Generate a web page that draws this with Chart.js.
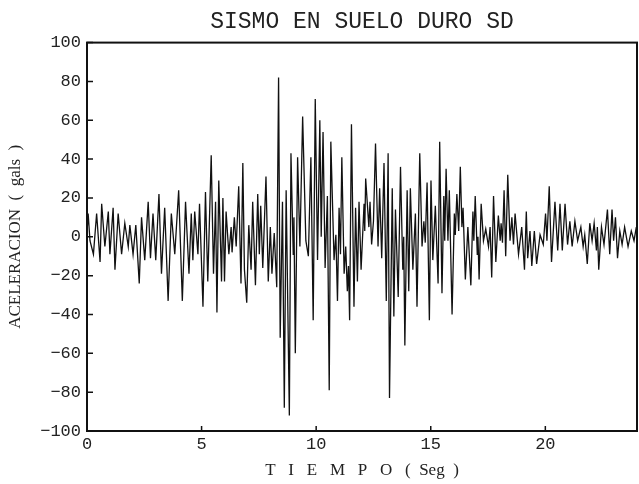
<!DOCTYPE html>
<html>
<head>
<meta charset="utf-8">
<script src="https://cdn.jsdelivr.net/npm/chart.js@4.4.1/dist/chart.umd.min.js"></script>
<style>
  html, body { margin: 0; padding: 0; background: #fff; }
  #wrap { width: 639px; height: 484px; }
</style>
</head>
<body>
<div id="wrap"><canvas id="myChart" width="639" height="484"></canvas></div>
<script>
const times = [
  0.00, 0.05, 0.13, 0.28, 0.42, 0.57, 0.64, 0.78, 0.93, 1.00, 1.14, 1.22, 1.36, 1.51, 1.65, 1.80, 1.87, 2.01, 2.13, 2.28,
  2.38, 2.52, 2.67, 2.77, 2.88, 3.00, 3.14, 3.25, 3.39, 3.54, 3.68, 3.83, 4.00, 4.16, 4.30, 4.45, 4.55, 4.62, 4.70, 4.84,
  4.91, 5.06, 5.17, 5.27, 5.42, 5.52, 5.61, 5.67, 5.75, 5.87, 5.93, 6.00, 6.07, 6.19, 6.29, 6.33, 6.43, 6.51, 6.62, 6.72,
  6.80, 6.87, 6.97, 7.06, 7.16, 7.23, 7.35, 7.45, 7.52, 7.58, 7.67, 7.81, 7.91, 8.00, 8.07, 8.17, 8.28, 8.36, 8.43, 8.53,
  8.61, 8.69, 8.83, 8.90, 9.00, 9.03, 9.09, 9.19, 9.29, 9.41, 9.55, 9.66, 9.77, 9.87, 9.96, 10.06, 10.16, 10.22, 10.30, 10.39,
  10.49, 10.57, 10.64, 10.78, 10.86, 10.93, 11.00, 11.06, 11.12, 11.22, 11.29, 11.36, 11.41, 11.46, 11.54, 11.65, 11.72, 11.80, 11.87, 11.96,
  12.09, 12.12, 12.16, 12.30, 12.35, 12.42, 12.50, 12.59, 12.70, 12.77, 12.86, 12.96, 13.06, 13.14, 13.20, 13.32, 13.39, 13.46, 13.58, 13.68,
  13.78, 13.82, 13.87, 13.97, 14.04, 14.11, 14.22, 14.33, 14.40, 14.52, 14.62, 14.70, 14.76, 14.84, 14.94, 15.01, 15.09, 15.20, 15.32, 15.39,
  15.49, 15.57, 15.61, 15.67, 15.75, 15.81, 15.93, 16.03, 16.07, 16.14, 16.22, 16.29, 16.36, 16.41, 16.51, 16.62, 16.75, 16.84, 16.88, 16.94,
  17.03, 17.06, 17.11, 17.20, 17.30, 17.40, 17.52, 17.59, 17.66, 17.74, 17.84, 17.95, 18.03, 18.07, 18.13, 18.20, 18.27, 18.36, 18.46, 18.54,
  18.61, 18.68, 18.83, 18.97, 19.09, 19.17, 19.23, 19.33, 19.41, 19.52, 19.62, 19.77, 19.91, 20.01, 20.07, 20.17, 20.27, 20.42, 20.54, 20.64,
  20.74, 20.86, 20.97, 21.07, 21.17, 21.29, 21.41, 21.55, 21.65, 21.72, 21.83, 21.94, 22.04, 22.13, 22.23, 22.27, 22.33, 22.45, 22.56, 22.71,
  22.81, 22.91, 22.98, 23.06, 23.15, 23.25, 23.35, 23.46, 23.61, 23.75, 23.87, 23.97
];
const accel = [
  2, 12, -2, -9, 12, -13, 17, -5, 13, -9, 15, -17, 12, -9, 7, -5, 6, -9, 6, -24,
  10, -12, 18, -11, 12, -12, 22, -19, 15, -33, 12, -9, 24, -33, 18, -19, 12, -12, 13, -9,
  17, -36, 23, -23, 42, -19, 18, -39, 29, -23, 20, -23, 13, -9, 5, -8, 10, -5, 26, -24,
  38, -17, -34, 6, -17, 18, -25, 22, -9, 16, -16, 31, -23, 5, -19, 2, -26, 82, -52, 18,
  -88, 24, -92, 43, -9, 10, -60, 41, -5, 62, -2, -10, 41, -43, 71, -12, 60, 0, 54, -16,
  21, -79, 49, -12, 1, -33, 15, -9, 41, -19, -5, -28, -15, -43, 58, -36, 15, -23, 18, -17,
  17, 3, 30, 5, 18, -4, 8, 48, -5, 25, -11, 38, -33, 43, -83, 25, -41, 14, -31, 36,
  -17, 0, -56, 24, -28, 25, -17, 12, -36, 43, -5, 8, -3, 28, -43, 29, -12, 16, -24, 49,
  -29, 21, -2, 35, -2, 24, -40, 12, 1, 22, 3, 36, 5, 15, -22, 5, -25, 13, -2, 21,
  -9, 0, -22, 17, -2, 4, -5, 5, -21, 21, -13, 11, -2, 7, -3, 24, -10, 32, -2, 10,
  -4, 12, -9, 5, -17, 13, -11, 3, -15, 3, -14, 1, -4, 12, -2, 26, -13, 18, -7, 17,
  -7, 17, -4, 8, -5, 8, -2, 5, -5, 1, -14, 7, -2, 7, -7, 5, -17, 5, -4, 14,
  -9, 14, -2, 10, -11, 3, -4, 5, -5, 3, -2, 5
];
const xTickValues = [0, 5, 10, 15, 20];
const yTickValues = [-100, -80, -60, -40, -20, 0, 20, 40, 60, 80, 100];

const points = times.map((t, i) => ({ x: t, y: accel[i] }));

// marco completo y marcas de division hacia adentro
const framePlugin = {
  id: 'frame',
  afterDraw(chart) {
    const c = chart.ctx;
    const a = chart.chartArea;
    const xs = chart.scales.x;
    const ys = chart.scales.y;
    c.save();
    c.strokeStyle = '#111';
    c.lineWidth = 2;
    c.strokeRect(a.left, a.top, a.right - a.left, a.bottom - a.top);
    c.lineWidth = 1.5;
    c.beginPath();
    yTickValues.forEach(v => {
      const y = ys.getPixelForValue(v);
      c.moveTo(a.left, y);
      c.lineTo(a.left + 6, y);
    });
    xTickValues.forEach(v => {
      if (v === 0) return;
      const x = xs.getPixelForValue(v);
      c.moveTo(x, a.bottom);
      c.lineTo(x, a.bottom - 5);
    });
    c.stroke();
    c.restore();
  }
};

const ctx = document.getElementById('myChart');
new Chart(ctx, {
  type: 'line',
  plugins: [framePlugin],
  data: {
    datasets: [{
      data: points,
      borderColor: '#111',
      borderWidth: 1.3,
      pointRadius: 0,
      tension: 0,
      fill: false
    }]
  },
  options: {
    responsive: false,
    animation: false,
    layout: { padding: { left: 0, right: 2, top: 0, bottom: 0 } },
    plugins: {
      legend: { display: false },
      tooltip: { enabled: false },
      title: {
        display: true,
        text: 'SISMO EN SUELO DURO SD',
        fullSize: false,
        color: '#222',
        font: { family: 'Liberation Mono', size: 23, weight: 'normal' },
        padding: { top: 8, bottom: 7 }
      }
    },
    scales: {
      x: {
        type: 'linear',
        min: 0,
        max: 24,
        afterBuildTicks: scale => { scale.ticks = xTickValues.map(v => ({ value: v })); },
        afterFit: scale => { scale.height = 53; },
        grid: { display: false, drawTicks: false },
        border: { display: false },
        ticks: {
          color: '#222',
          padding: 3,
          maxRotation: 0,
          font: { family: 'Liberation Mono', size: 17 }
        },
        title: {
          display: true,
          text: 'T   I   E   M   P   O   (  Seg  )',
          color: '#222',
          font: { family: 'Liberation Serif', size: 17 },
          padding: { top: 0, bottom: 3 }
        }
      },
      y: {
        min: -100,
        max: 100,
        afterBuildTicks: scale => { scale.ticks = yTickValues.map(v => ({ value: v })); },
        afterFit: scale => { scale.width = 87; },
        grid: { display: false, drawTicks: false },
        border: { display: false },
        ticks: {
          color: '#222',
          padding: 6,
          font: { family: 'Liberation Mono', size: 17 },
          callback: v => String(v).replace('-', '\u2212')
        },
        title: {
          display: true,
          text: 'ACELERACION  (  gals  )',
          color: '#222',
          font: { family: 'Liberation Serif', size: 17 },
          padding: { top: 5, bottom: 0 }
        }
      }
    }
  }
});
</script>
</body>
</html>
